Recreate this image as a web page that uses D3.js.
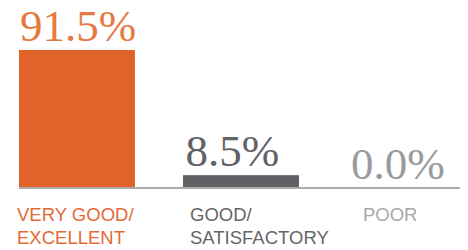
<!DOCTYPE html>
<html>
<head>
<meta charset="utf-8">
<script src="https://cdn.jsdelivr.net/npm/d3@7"></script>
<style>
  body { margin: 0; background: #fff; }
  svg { display: block; }
</style>
</head>
<body>
<svg id="chart" width="468" height="250"></svg>
<script>
// data
var categories = ["VERY GOOD/\nEXCELLENT", "GOOD/\nSATISFACTORY", "POOR"];
var values = [91.5, 8.5, 0.0];
var barColors = ["#e0632a", "#5f6064", "#9c9c9e"];
var textColors = ["#e57a42", "#626266", "#9a9a9c"];
var labelColors = ["#e36a35", "#666668", "#a8a8aa"];

var svg = d3.select("#chart");
var baseY = 188;

var x = d3.scaleBand()
    .domain(categories)
    .range([19, 463])
    .paddingInner(0.293)
    .paddingOuter(0);

// category labels sit on a slightly wider grid than the bars
var xLabel = d3.scalePoint()
    .domain(categories)
    .range([17, 363]);

var y = d3.scaleLinear()
    .domain([0, 91.5])
    .range([baseY, 50]);

var data = categories.map(function(c, i) {
    return { cat: c, value: values[i], i: i };
});

svg.selectAll("rect.bar")
    .data(data)
    .enter()
    .append("rect")
    .attr("class", "bar")
    .attr("x", function(d) { return x(d.cat); })
    .attr("y", function(d) { return y(d.value); })
    .attr("width", x.bandwidth())
    .attr("height", function(d) { return baseY - y(d.value); })
    .attr("fill", function(d) { return barColors[d.i]; });

// baseline
svg.append("line")
    .attr("x1", x.range()[0])
    .attr("x2", 460)
    .attr("y1", baseY)
    .attr("y2", baseY)
    .attr("stroke", "#ababad")
    .attr("stroke-width", 2);

// value labels
svg.selectAll("text.val")
    .data(data)
    .enter()
    .append("text")
    .attr("class", "val")
    .attr("x", function(d, i) { return x(d.cat) + 1 + i * 1.5; })
    .attr("y", function(d) { return y(d.value) - 9; })
    .text(function(d) { return d.value.toFixed(1) + "%"; })
    .style("fill", function(d) { return textColors[d.i]; })
    .style("font-family", "'Liberation Serif', 'DejaVu Serif', serif")
    .style("font-size", "45px");

// category labels (two lines)
var lab = svg.selectAll("text.cat")
    .data(data)
    .enter()
    .append("text")
    .attr("class", "cat")
    .attr("x", function(d) { return xLabel(d.cat); })
    .attr("y", 221)
    .style("fill", function(d) { return labelColors[d.i]; })
    .style("font-family", "'Liberation Sans', Arial, sans-serif")
    .style("font-size", "18.5px");

lab.selectAll("tspan")
    .data(function(d) { return d.cat.split("\n").map(function(t) { return { t: t, x: xLabel(d.cat) }; }); })
    .enter()
    .append("tspan")
    .attr("x", function(t) { return t.x; })
    .attr("dy", function(t, j) { return j === 0 ? 0 : 23; })
    .text(function(t) { return t.t; });
</script>
</body>
</html>
